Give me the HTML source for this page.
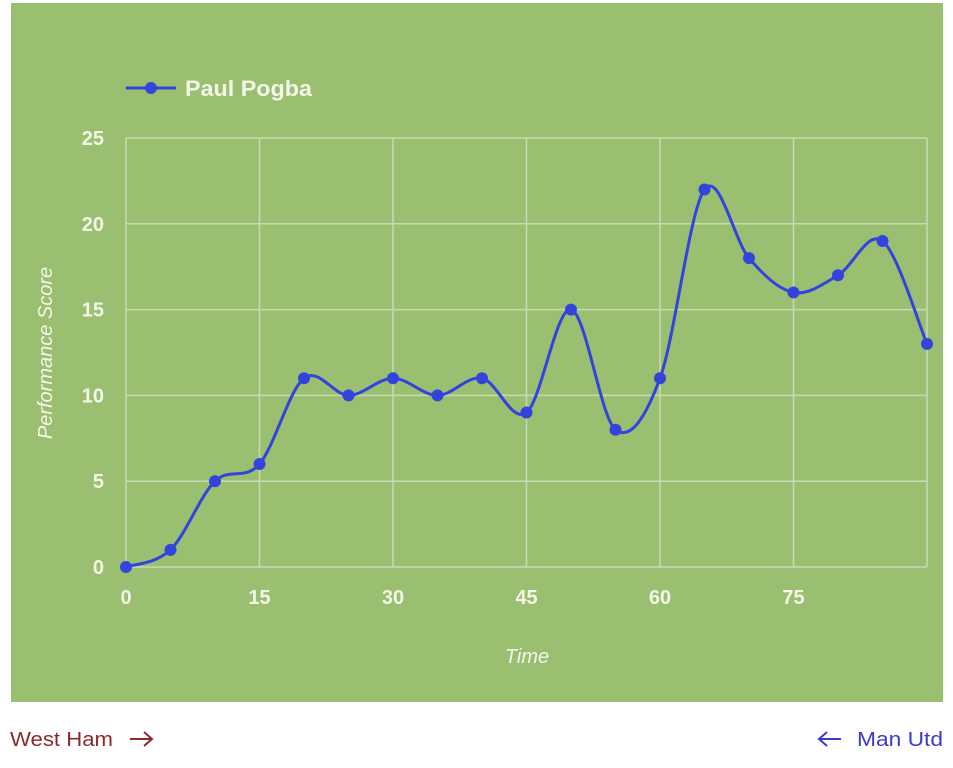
<!DOCTYPE html>
<html><head><meta charset="utf-8"><style>
html,body{margin:0;padding:0;background:#fff;width:953px;height:768px;overflow:hidden}
svg{display:block}
text{font-family:"Liberation Sans",Arial,sans-serif}
</style></head><body>
<svg id="s" width="953" height="768" viewBox="0 0 953 768">
<rect x="11" y="3" width="932" height="699" fill="#9bbf70"/>
<g id="grid" stroke="#c9d9b4" stroke-width="1.5" fill="none"></g>
<g font-size="20" font-weight="bold" fill="#f4f6e8" id="lab"></g>
<path id="ln" fill="none" stroke="#3344dd" stroke-width="3"/>
<g id="pts" fill="#3344dd"></g>
<line x1="126" y1="88" x2="176" y2="88" stroke="#3344dd" stroke-width="3"/>
<circle cx="151" cy="88" r="6" fill="#3344dd"/>
<text x="185" y="96" font-size="22" font-weight="bold" fill="#f4f6e8" textLength="127" lengthAdjust="spacingAndGlyphs">Paul Pogba</text>
<text x="527" y="663" font-size="20" font-style="italic" fill="#f4f6e8" text-anchor="middle">Time</text>
<text transform="translate(52,353) rotate(-90)" font-size="20" font-style="italic" fill="#f4f6e8" text-anchor="middle">Performance Score</text>
<text x="10" y="746" font-size="20" fill="#8b2a2a" textLength="103" lengthAdjust="spacingAndGlyphs">West Ham</text>
<g stroke="#8b2a2a" stroke-width="2" fill="none"><line x1="130" y1="739" x2="152" y2="739"/><polyline points="144,732 152,739 144,746"/></g>
<text x="857" y="746" font-size="20" fill="#3b3bc9" textLength="86" lengthAdjust="spacingAndGlyphs">Man Utd</text>
<g stroke="#3b3bc9" stroke-width="2" fill="none"><line x1="819" y1="739" x2="841" y2="739"/><polyline points="827,732 819,739 827,746"/></g>
</svg>
<script>
var X0=126,X1=927,Y0=567,Y1=138;
function px(t){return X0+(X1-X0)*t/90}
function py(v){return Y0-(Y0-Y1)*v/25}
var g=document.getElementById('grid'),lab=document.getElementById('lab'),ns='http://www.w3.org/2000/svg';
function el(p,t,a,txt){var e=document.createElementNS(ns,t);for(var k in a)e.setAttribute(k,a[k]);if(txt!=null)e.textContent=txt;p.appendChild(e);return e}
for(var v=0;v<=25;v+=5){el(g,'line',{x1:X0,x2:X1,y1:py(v),y2:py(v)});el(lab,'text',{x:104,y:py(v)+7,'text-anchor':'end'},v)}
for(var t=0;t<=90;t+=15){el(g,'line',{x1:px(t),x2:px(t),y1:Y1,y2:Y0});if(t<90)el(lab,'text',{x:px(t),y:604,'text-anchor':'middle'},t)}
var d=[0,1,5,6,11,10,11,10,11,9,15,8,11,22,18,16,17,19,13];
var P=d.map(function(v,i){return [px(i*5),py(v)]});
var s='M'+P[0][0]+','+P[0][1],k=0.5/3*2;
for(var i=0;i<P.length-1;i++){var a=P[i-1]||P[i],b=P[i],c=P[i+1],e=P[i+2]||c;
s+=' C'+(b[0]+(c[0]-a[0])*k/2)+','+(b[1]+(c[1]-a[1])*k/2)+' '+(c[0]-(e[0]-b[0])*k/2)+','+(c[1]-(e[1]-b[1])*k/2)+' '+c[0]+','+c[1];}
document.getElementById('ln').setAttribute('d',s);
var pts=document.getElementById('pts');P.forEach(function(p){el(pts,'circle',{cx:p[0],cy:p[1],r:6})});
</script>
</body></html>
